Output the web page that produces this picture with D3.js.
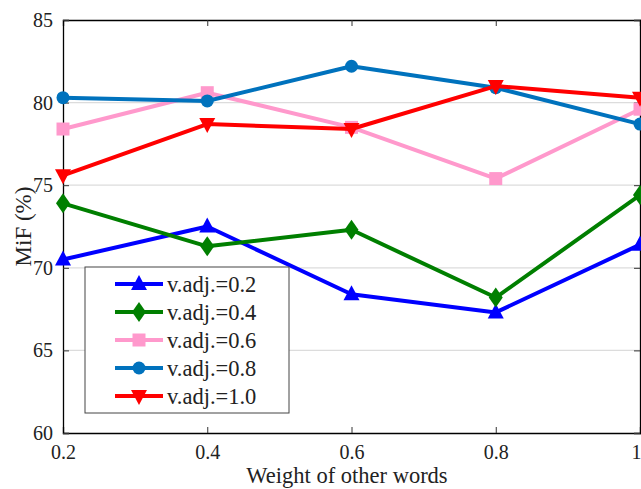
<!DOCTYPE html>
<html>
<head>
<meta charset="utf-8">
<script src="https://cdn.jsdelivr.net/npm/d3@7"></script>
<style>
  body { margin: 0; background: #fff; }
  svg { display: block; }
  svg text { font-family: "Liberation Serif", "Times New Roman", Tinos, "DejaVu Serif", serif; }
</style>
</head>
<body>
<svg id="chart" width="641" height="489"></svg>
<script>
const xValues = [0.2, 0.4, 0.6, 0.8, 1.0];
const xTicks = [0.2, 0.4, 0.6, 0.8, 1];
const yTicks = [60, 65, 70, 75, 80, 85];

const seriesNames = ["v.adj.=0.2", "v.adj.=0.4", "v.adj.=0.6", "v.adj.=0.8", "v.adj.=1.0"];
const adj02 = [70.5, 72.5, 68.4, 67.3, 71.4];
const adj04 = [73.9, 71.3, 72.3, 68.2, 74.4];
const adj06 = [78.4, 80.6, 78.5, 75.4, 79.6];
const adj08 = [80.3, 80.1, 82.2, 80.9, 78.7];
const adj10 = [75.6, 78.7, 78.4, 81.0, 80.3];
const colors = ["#0000ff", "#007f00", "#ff99cc", "#0072bd", "#ff0000"];
const markers = ["up", "diamond", "square", "circle", "down"];

const series = [adj02, adj04, adj06, adj08, adj10].map((vals, i) => ({
    name: seriesNames[i], values: vals, color: colors[i], marker: markers[i]
}));

const margin = {left: 63, right: 1, top: 20, bottom: 56};
const svg = d3.select("#chart");
const W = +svg.attr("width"), H = +svg.attr("height");
const x = d3.scaleLinear().domain([0.2, 1]).range([margin.left, W - margin.right]);
const y = d3.scaleLinear().domain([60, 85]).range([H - margin.bottom, margin.top]);

// horizontal grid
svg.append("g")
    .selectAll("line")
    .data(yTicks.slice(1, -1))
    .join("line")
    .attr("x1", x(0.2)).attr("x2", x(1))
    .attr("y1", d => y(d)).attr("y2", d => y(d))
    .attr("stroke", "#dcdcdc").attr("stroke-width", 1.2);

// axes with inward ticks
const fmtX = d => d === 1 ? "1" : d3.format(".1f")(d);
const axBottom = svg.append("g").attr("transform", `translate(0,${y(60)})`)
    .call(d3.axisBottom(x).tickValues(xTicks).tickSize(-6).tickPadding(12).tickFormat(fmtX));
const axTop = svg.append("g").attr("transform", `translate(0,${y(85)})`)
    .call(d3.axisTop(x).tickValues(xTicks).tickSize(-6).tickFormat(""));
const axLeft = svg.append("g").attr("transform", `translate(${x(0.2)},0)`)
    .call(d3.axisLeft(y).tickValues(yTicks).tickSize(-6).tickPadding(10));
const axRight = svg.append("g").attr("transform", `translate(${x(1)},0)`)
    .call(d3.axisRight(y).tickValues(yTicks).tickSize(-6).tickFormat(""));

[axBottom, axTop, axLeft, axRight].forEach(g => {
    g.attr("font-family", null);
    g.select(".domain").attr("stroke", "#000").attr("stroke-width", 1.3);
    g.selectAll(".tick line").attr("stroke", "#333").attr("stroke-width", 1);
    g.selectAll("text").attr("font-size", 20).attr("fill", "#222");
});
// last label sits at the window edge; keep it inside
axBottom.selectAll(".tick text").filter(d => d === 1).attr("text-anchor", "end").attr("dx", 1);

// axis labels
svg.append("text")
    .attr("x", 347).attr("y", 483)
    .attr("text-anchor", "middle").attr("font-size", 22.5).attr("fill", "#222")
    .text("Weight of other words");
svg.append("text")
    .attr("transform", `translate(31,${(y(60) + y(85)) / 2}) rotate(-90)`)
    .attr("text-anchor", "middle").attr("font-size", 23).attr("fill", "#222")
    .text("MiF (%)");

function drawMarker(g, type, color) {
    const s = 7;
    if (type === "circle") {
        g.append("circle").attr("r", 6.5).attr("fill", color);
    } else {
        let pts;
        if (type === "up") pts = [[0, -s - 2], [s + 1, s - 1], [-s - 1, s - 1]];
        if (type === "down") pts = [[0, s + 2], [s + 1, -s + 1], [-s - 1, -s + 1]];
        if (type === "diamond") pts = [[0, -10], [7, 0], [0, 10], [-7, 0]];
        if (type === "square") pts = [[-6.5, -6.5], [6.5, -6.5], [6.5, 6.5], [-6.5, 6.5]];
        g.append("polygon").attr("points", pts.map(p => p.join(",")).join(" ")).attr("fill", color);
    }
}

const line = d3.line().x((d, i) => x(xValues[i])).y(d => y(d));

series.forEach(s => {
    const g = svg.append("g");
    g.append("path").datum(s.values)
        .attr("d", line).attr("fill", "none")
        .attr("stroke", s.color).attr("stroke-width", 4).attr("stroke-linejoin", "round");
    s.values.forEach((v, i) => {
        drawMarker(g.append("g").attr("transform", `translate(${x(xValues[i])},${y(v)})`), s.marker, s.color);
    });
});

// legend
const lg = svg.append("g").attr("transform", "translate(85,267)");
lg.append("rect").attr("width", 204).attr("height", 146)
    .attr("fill", "#fff").attr("stroke", "#444").attr("stroke-width", 1);
series.forEach((s, i) => {
    const row = lg.append("g").attr("transform", `translate(0,${17 + i * 28})`);
    row.append("line").attr("x1", 30).attr("x2", 78)
        .attr("stroke", s.color).attr("stroke-width", 4);
    drawMarker(row.append("g").attr("transform", "translate(54,0)"), s.marker, s.color);
    row.append("text").attr("x", 82).attr("y", 7.5)
        .attr("font-size", 22.5).attr("fill", "#222").text(s.name);
});
</script>
</body>
</html>
